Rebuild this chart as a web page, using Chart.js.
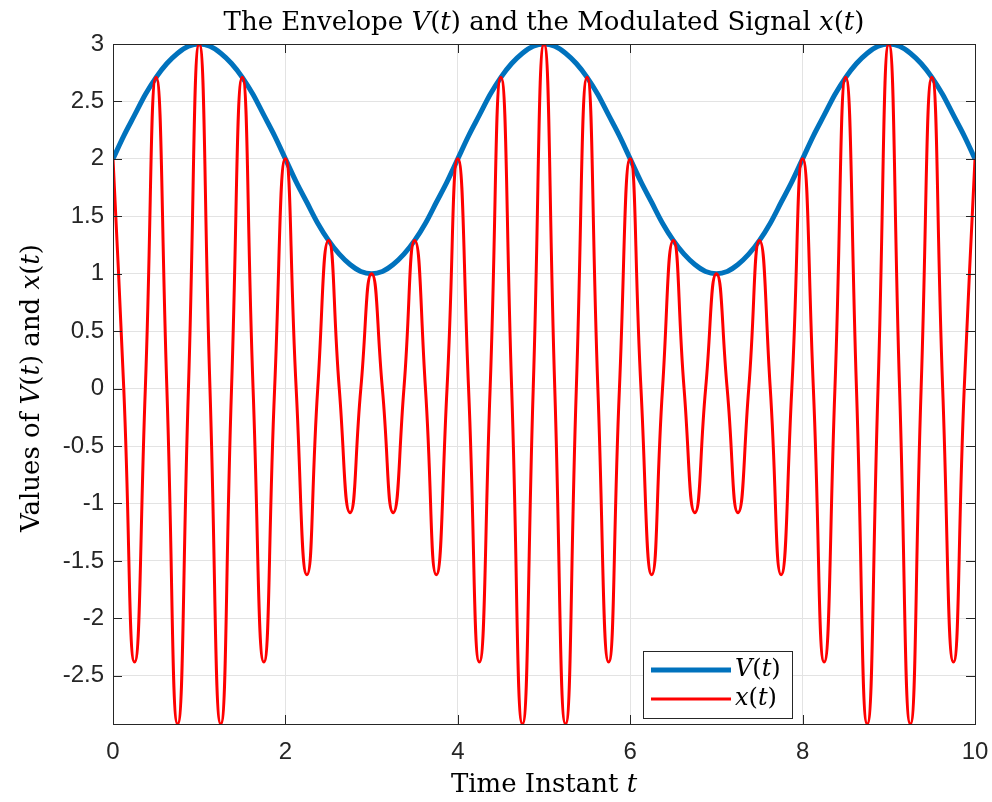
<!DOCTYPE html>
<html>
<head>
<meta charset="utf-8">
<script src="https://cdn.jsdelivr.net/npm/chart.js@4/dist/chart.umd.min.js"></script>
<style>
  html, body { margin: 0; padding: 0; background: #fff; }
</style>
</head>
<body>
<canvas id="myChart" width="992" height="802"></canvas>
<script>
// samples, every 1/8 of a time unit
const timeInstants = [
    0, 0.125, 0.25, 0.375, 0.5, 0.625, 0.75, 0.875, 1, 1.125, 1.25, 1.375, 1.5, 1.625, 1.75, 1.875,
    2, 2.125, 2.25, 2.375, 2.5, 2.625, 2.75, 2.875, 3, 3.125, 3.25, 3.375, 3.5, 3.625, 3.75, 3.875,
    4, 4.125, 4.25, 4.375, 4.5, 4.625, 4.75, 4.875, 5, 5.125, 5.25, 5.375, 5.5, 5.625, 5.75, 5.875,
    6, 6.125, 6.25, 6.375, 6.5, 6.625, 6.75, 6.875, 7, 7.125, 7.25, 7.375, 7.5, 7.625, 7.75, 7.875,
    8, 8.125, 8.25, 8.375, 8.5, 8.625, 8.75, 8.875, 9, 9.125, 9.25, 9.375, 9.5, 9.625, 9.75, 9.875,
    10
];

const envelope = [
    2, 2.2, 2.38, 2.56, 2.71, 2.83, 2.92, 2.98, 3, 2.98, 2.92, 2.83, 2.71, 2.56, 2.38, 2.2,
    2, 1.8, 1.62, 1.44, 1.29, 1.17, 1.08, 1.02, 1, 1.02, 1.08, 1.17, 1.29, 1.44, 1.62, 1.8,
    2, 2.2, 2.38, 2.56, 2.71, 2.83, 2.92, 2.98, 3, 2.98, 2.92, 2.83, 2.71, 2.56, 2.38, 2.2,
    2, 1.8, 1.62, 1.44, 1.29, 1.17, 1.08, 1.02, 1, 1.02, 1.08, 1.17, 1.29, 1.44, 1.62, 1.8,
    2, 2.2, 2.38, 2.56, 2.71, 2.83, 2.92, 2.98, 3, 2.98, 2.92, 2.83, 2.71, 2.56, 2.38, 2.2,
    2
];

const signal = [
    2, 0, -2.38, 0, 2.71, 0, -2.92, 0, 3, 0, -2.92, 0, 2.71, 0, -2.38, 0,
    2, 0, -1.62, 0, 1.29, 0, -1.08, 0, 1, 0, -1.08, 0, 1.29, 0, -1.62, 0,
    2, 0, -2.38, 0, 2.71, 0, -2.92, 0, 3, 0, -2.92, 0, 2.71, 0, -2.38, 0,
    2, 0, -1.62, 0, 1.29, 0, -1.08, 0, 1, 0, -1.08, 0, 1.29, 0, -1.62, 0,
    2, 0, -2.38, 0, 2.71, 0, -2.92, 0, 3, 0, -2.92, 0, 2.71, 0, -2.38, 0,
    2
];

const xTickValues = [0, 2, 4, 6, 8, 10];
const yTickValues = [-2.5, -2, -1.5, -1, -0.5, 0, 0.5, 1, 1.5, 2, 2.5, 3];

const SERIF = '"DejaVu Serif", serif';
const INK = '#262626';

// draw text made of upright / italic pieces, centred on (x, y)
function drawRich(ctx, parts, x, y, size) {
    const fontFor = italic => (italic ? 'italic ' : '') + size + 'px ' + SERIF;
    let total = 0;
    parts.forEach(([s, it]) => { ctx.font = fontFor(it); total += ctx.measureText(s).width; });
    let cx = x - total / 2;
    ctx.textAlign = 'left';
    ctx.textBaseline = 'middle';
    parts.forEach(([s, it]) => {
        ctx.font = fontFor(it);
        ctx.fillText(s, cx, y);
        cx += ctx.measureText(s).width;
    });
    return total;
}

const labelsPlugin = {
    id: 'labels',
    afterDraw(chart) {
        const ctx = chart.ctx;
        const area = chart.chartArea;
        const midX = (area.left + area.right) / 2;
        ctx.save();
        ctx.fillStyle = '#000';
        drawRich(ctx, [['The Envelope ', false], ['V', true], ['(', false], ['t', true],
            [') and the Modulated Signal ', false], ['x', true], ['(', false], ['t', true], [')', false]],
            midX, 23, 26);
        drawRich(ctx, [['Time Instant ', false], ['t', true]], midX, 785, 26);
        ctx.translate(32, (area.top + area.bottom) / 2 + 4);
        ctx.rotate(-Math.PI / 2);
        drawRich(ctx, [['Values of ', false], ['V', true], ['(', false], ['t', true], [') and ', false],
            ['x', true], ['(', false], ['t', true], [')', false]], 0, 0, 26);
        ctx.restore();
    }
};

// box around the axes with inward ticks, like the original figure
const framePlugin = {
    id: 'frame',
    afterDatasetsDraw(chart) {
        const {ctx, chartArea: a, scales} = chart;
        const len = 9;
        ctx.save();
        ctx.strokeStyle = INK;
        ctx.lineWidth = 1;
        ctx.beginPath();
        scales.x.ticks.forEach(t => {
            const px = Math.round(scales.x.getPixelForValue(t.value)) + 0.5;
            ctx.moveTo(px, a.bottom); ctx.lineTo(px, a.bottom - len);
            ctx.moveTo(px, a.top); ctx.lineTo(px, a.top + len);
        });
        scales.y.ticks.forEach(t => {
            const py = Math.round(scales.y.getPixelForValue(t.value)) + 0.5;
            ctx.moveTo(a.left, py); ctx.lineTo(a.left + len, py);
            ctx.moveTo(a.right, py); ctx.lineTo(a.right - len, py);
        });
        ctx.stroke();
        ctx.strokeRect(Math.round(a.left) + 0.5, Math.round(a.top) + 0.5,
            Math.round(a.right - a.left), Math.round(a.bottom - a.top));
        ctx.restore();
    }
};

const legendPlugin = {
    id: 'boxLegend',
    afterDraw(chart) {
        const {ctx, chartArea: a} = chart;
        const left = a.right - 332, top = a.bottom - 73, w = 149, h = 67;
        ctx.save();
        ctx.fillStyle = '#fff';
        ctx.fillRect(left, top, w, h);
        ctx.strokeStyle = INK;
        ctx.lineWidth = 1;
        ctx.strokeRect(left + 0.5, top + 0.5, w, h);
        chart.data.datasets.forEach((ds, i) => {
            const y = top + 19 + i * 29;
            ctx.strokeStyle = ds.borderColor;
            ctx.lineWidth = ds.borderWidth;
            ctx.beginPath();
            ctx.moveTo(left + 8, y);
            ctx.lineTo(left + 88, y);
            ctx.stroke();
            ctx.fillStyle = '#000';
            const parts = [[ds.label.charAt(0), true], ['(', false], ['t', true], [')', false]];
            let wid = 0;
            parts.forEach(([s, it]) => { ctx.font = (it ? 'italic ' : '') + '24px ' + SERIF; wid += ctx.measureText(s).width; });
            drawRich(ctx, parts, left + 92 + wid / 2, y, 24);
        });
        ctx.restore();
    }
};

function initializeChart() {
    const ctx = document.getElementById('myChart').getContext('2d');
    Chart.defaults.font.family = '"Liberation Sans", Arial, sans-serif';
    Chart.defaults.font.size = 24;
    Chart.defaults.color = INK;

    return new Chart(ctx, {
        type: 'line',
        data: {
            datasets: [
                {
                    label: 'V(t)',
                    data: timeInstants.map((t, i) => ({ x: t, y: envelope[i] })),
                    borderColor: '#0072BD',
                    borderWidth: 5,
                    pointRadius: 0,
                    cubicInterpolationMode: 'monotone',
                    fill: false,
                    clip: 0,
                    order: 1
                },
                {
                    label: 'x(t)',
                    data: timeInstants.map((t, i) => ({ x: t, y: signal[i] })),
                    borderColor: '#FF0000',
                    borderWidth: 3,
                    pointRadius: 0,
                    tension: 0.55,
                    fill: false,
                    clip: 0,
                    order: 0
                }
            ]
        },
        options: {
            responsive: false,
            animation: false,
            events: [],
            layout: { padding: { top: 44, right: 17, left: 0, bottom: 0 } },
            plugins: {
                legend: { display: false },
                title: { display: false },
                tooltip: { enabled: false }
            },
            scales: {
                x: {
                    type: 'linear',
                    min: 0,
                    max: 10,
                    afterBuildTicks: s => { s.ticks = xTickValues.map(v => ({ value: v })); },
                    ticks: { padding: 14, maxRotation: 0, autoSkip: false },
                    grid: { color: '#e3e3e3', drawTicks: false },
                    border: { display: false },
                    afterFit: s => { s.height = 78; s.paddingLeft = 0; s.paddingRight = 0; }
                },
                y: {
                    type: 'linear',
                    bounds: 'data',
                    min: -2.92,
                    max: 3,
                    afterBuildTicks: s => { s.ticks = yTickValues.map(v => ({ value: v })); },
                    ticks: {
                        padding: 9,
                        autoSkip: false,
                        callback: v => String(v)
                    },
                    grid: { color: '#e3e3e3', drawTicks: false },
                    border: { display: false },
                    afterFit: s => { s.width = 113; s.paddingTop = 0; s.paddingBottom = 0; }
                }
            }
        },
        plugins: [framePlugin, legendPlugin, labelsPlugin]
    });
}

initializeChart();
</script>
</body>
</html>
